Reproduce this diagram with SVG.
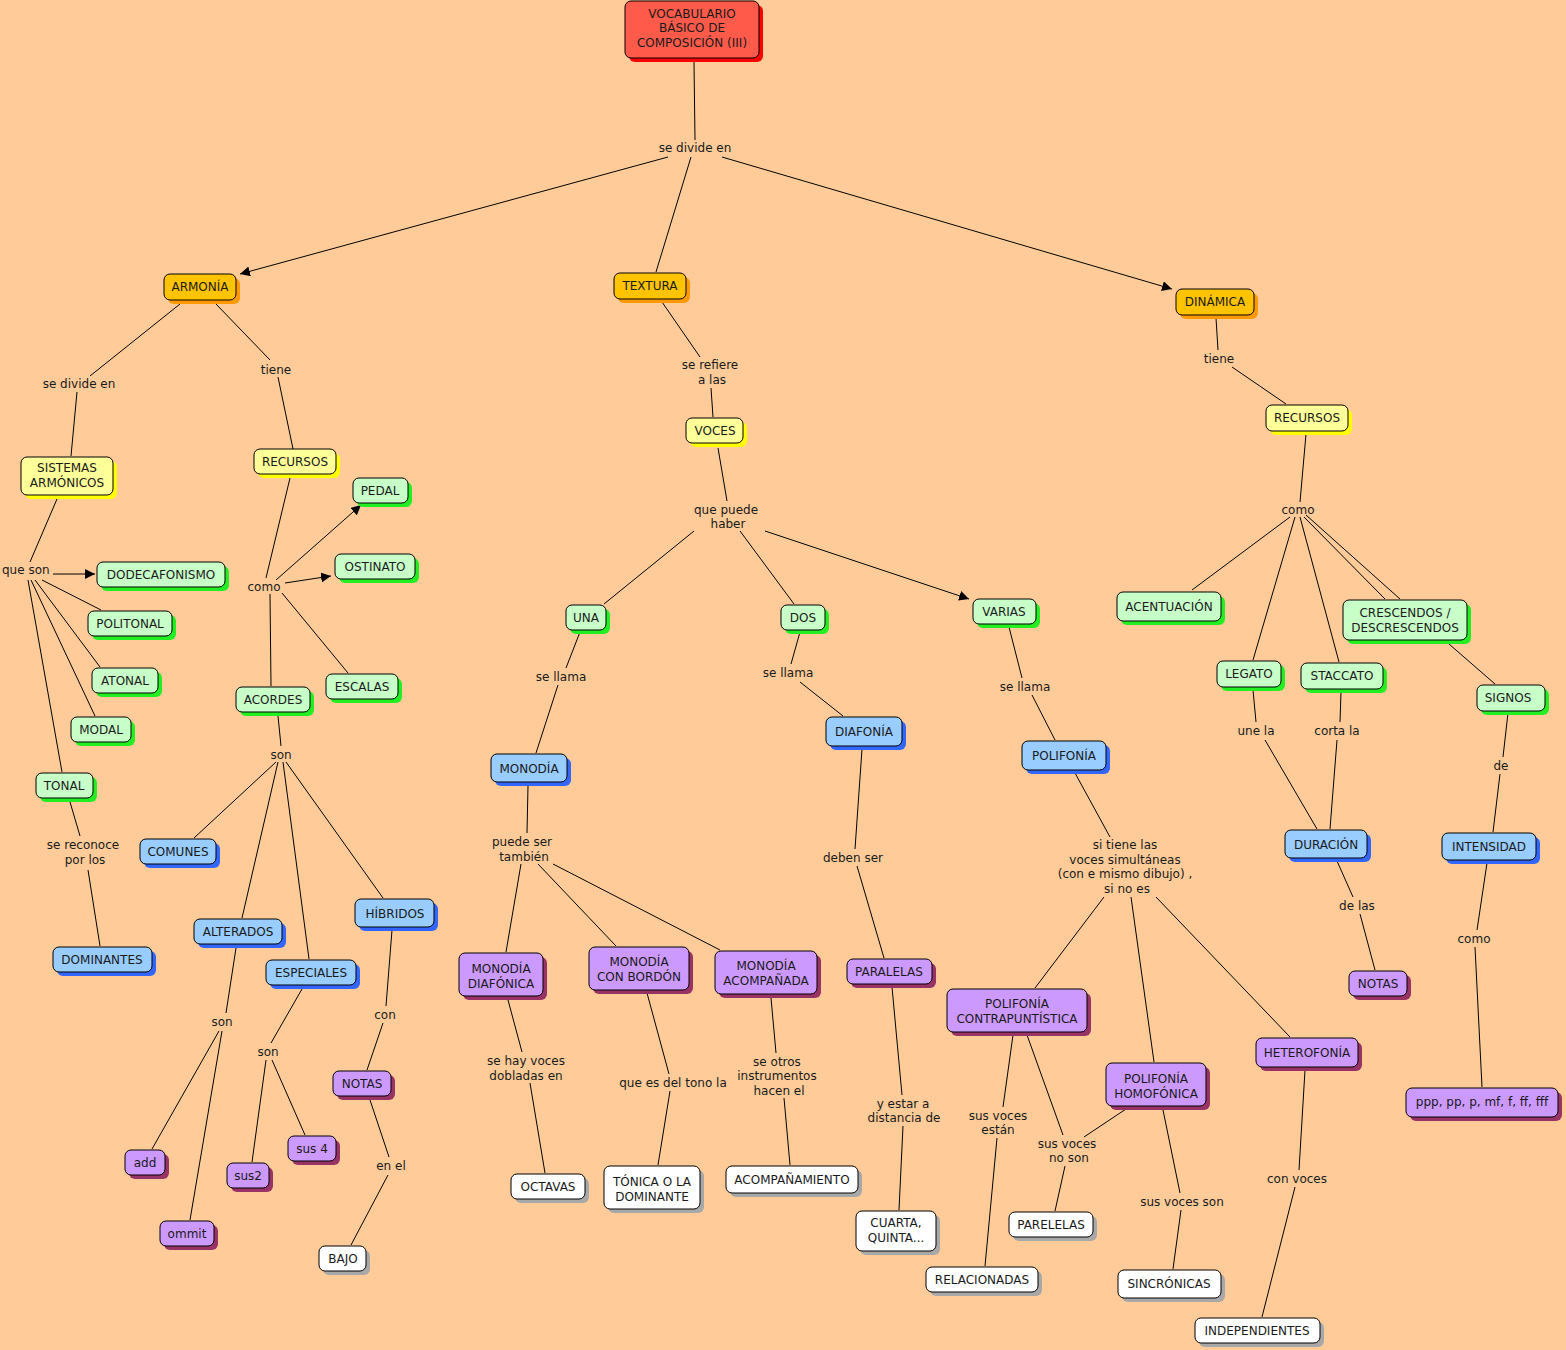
<svg xmlns="http://www.w3.org/2000/svg" width="1566" height="1350" viewBox="0 0 1566 1350">
<defs>
<marker id="ah" viewBox="0 0 10 10" refX="10" refY="5" markerWidth="10" markerHeight="10" markerUnits="userSpaceOnUse" orient="auto"><path d="M0,0 L10,5 L0,10 z" fill="#000"/></marker>
<style>
text{font-family:"DejaVu Sans","Liberation Sans",sans-serif;font-size:12px;fill:#1a1a1a;text-anchor:middle}
.cn line{stroke:#000;stroke-width:1}
.cn .ar{marker-end:url(#ah)}
.bx{stroke:#000;stroke-width:1}
.red .bx{fill:#FF5A4A}.red .sh{fill:#FF0000}
.org .bx{fill:#FFC300}.org .sh{fill:#FF9900}
.yel .bx{fill:#FFFF99}.yel .sh{fill:#FFFF00}
.grn .bx{fill:#C8FFC8}.grn .sh{fill:#22EE22}
.blu .bx{fill:#99CCFF}.blu .sh{fill:#3366FF}
.pur .bx{fill:#CC99FF}.pur .sh{fill:#993366}
.wht .bx{fill:#FFFFFF}.wht .sh{fill:#A8A8A8}
</style>
</defs>
<rect x="0" y="0" width="1566" height="1350" fill="#FFCC99"/>

<g class="cn">
<line x1="694" y1="62" x2="695" y2="140"/>
<line class="ar" x1="668" y1="157" x2="240" y2="274"/>
<line x1="691" y1="157" x2="656" y2="272"/>
<line class="ar" x1="722" y1="157" x2="1172" y2="289"/>
<line x1="180" y1="304" x2="90" y2="376"/>
<line x1="77" y1="392" x2="71" y2="456"/>
<line x1="216" y1="304" x2="270" y2="360"/>
<line x1="278" y1="377" x2="293" y2="449"/>
<line x1="57" y1="499" x2="30" y2="562"/>
<line class="ar" x1="53" y1="574" x2="95" y2="574"/>
<line x1="42" y1="580" x2="101" y2="610"/>
<line x1="35" y1="580" x2="100" y2="667"/>
<line x1="31" y1="580" x2="95" y2="716"/>
<line x1="28" y1="580" x2="62" y2="772"/>
<line x1="70" y1="802" x2="80" y2="836"/>
<line x1="88" y1="870" x2="100" y2="946"/>
<line x1="290" y1="478" x2="266" y2="578"/>
<line class="ar" x1="276" y1="580" x2="361" y2="505"/>
<line class="ar" x1="285" y1="583" x2="331" y2="576"/>
<line x1="282" y1="593" x2="348" y2="673"/>
<line x1="270" y1="594" x2="271" y2="686"/>
<line x1="278" y1="716" x2="281" y2="746"/>
<line x1="276" y1="762" x2="194" y2="838"/>
<line x1="278" y1="762" x2="242" y2="918"/>
<line x1="283" y1="762" x2="309" y2="959"/>
<line x1="286" y1="762" x2="383" y2="898"/>
<line x1="236" y1="948" x2="226" y2="1013"/>
<line x1="219" y1="1031" x2="152" y2="1149"/>
<line x1="222" y1="1031" x2="190" y2="1220"/>
<line x1="302" y1="989" x2="271" y2="1043"/>
<line x1="266" y1="1060" x2="252" y2="1162"/>
<line x1="272" y1="1060" x2="305" y2="1135"/>
<line x1="392" y1="930" x2="386" y2="1006"/>
<line x1="383" y1="1023" x2="367" y2="1070"/>
<line x1="370" y1="1100" x2="389" y2="1157"/>
<line x1="388" y1="1175" x2="351" y2="1245"/>
<line x1="662" y1="302" x2="700" y2="357"/>
<line x1="711" y1="388" x2="713" y2="417"/>
<line x1="718" y1="448" x2="727" y2="501"/>
<line x1="694" y1="531" x2="604" y2="604"/>
<line x1="740" y1="531" x2="794" y2="604"/>
<line class="ar" x1="765" y1="531" x2="969" y2="599"/>
<line x1="580" y1="632" x2="566" y2="668"/>
<line x1="558" y1="685" x2="536" y2="753"/>
<line x1="800" y1="632" x2="791" y2="664"/>
<line x1="800" y1="682" x2="843" y2="716"/>
<line x1="1009" y1="627" x2="1022" y2="678"/>
<line x1="1032" y1="695" x2="1055" y2="740"/>
<line x1="528" y1="786" x2="527" y2="833"/>
<line x1="521" y1="864" x2="506" y2="952"/>
<line x1="538" y1="864" x2="616" y2="946"/>
<line x1="553" y1="864" x2="720" y2="950"/>
<line x1="508" y1="1000" x2="522" y2="1052"/>
<line x1="530" y1="1083" x2="545" y2="1173"/>
<line x1="647" y1="993" x2="669" y2="1074"/>
<line x1="670" y1="1091" x2="658" y2="1165"/>
<line x1="771" y1="998" x2="776" y2="1053"/>
<line x1="784" y1="1098" x2="790" y2="1165"/>
<line x1="862" y1="749" x2="855" y2="849"/>
<line x1="857" y1="866" x2="884" y2="958"/>
<line x1="892" y1="987" x2="902" y2="1095"/>
<line x1="903" y1="1126" x2="899" y2="1210"/>
<line x1="1075" y1="773" x2="1110" y2="837"/>
<line x1="1104" y1="897" x2="1035" y2="988"/>
<line x1="1131" y1="897" x2="1154" y2="1062"/>
<line x1="1156" y1="897" x2="1290" y2="1037"/>
<line x1="1013" y1="1035" x2="1003" y2="1107"/>
<line x1="997" y1="1138" x2="985" y2="1266"/>
<line x1="1027" y1="1035" x2="1063" y2="1135"/>
<line x1="1065" y1="1166" x2="1055" y2="1211"/>
<line x1="1126" y1="1109" x2="1084" y2="1137"/>
<line x1="1163" y1="1110" x2="1180" y2="1193"/>
<line x1="1181" y1="1210" x2="1173" y2="1269"/>
<line x1="1305" y1="1070" x2="1299" y2="1170"/>
<line x1="1295" y1="1187" x2="1262" y2="1317"/>
<line x1="1216" y1="318" x2="1218" y2="350"/>
<line x1="1232" y1="367" x2="1286" y2="404"/>
<line x1="1306" y1="434" x2="1300" y2="502"/>
<line x1="1290" y1="517" x2="1192" y2="590"/>
<line x1="1295" y1="517" x2="1253" y2="660"/>
<line x1="1300" y1="517" x2="1339" y2="662"/>
<line x1="1304" y1="517" x2="1385" y2="599"/>
<line x1="1306" y1="515" x2="1400" y2="599"/>
<line x1="1449" y1="644" x2="1495" y2="684"/>
<line x1="1253" y1="690" x2="1256" y2="722"/>
<line x1="1265" y1="740" x2="1317" y2="829"/>
<line x1="1341" y1="692" x2="1340" y2="722"/>
<line x1="1337" y1="740" x2="1330" y2="829"/>
<line x1="1337" y1="861" x2="1353" y2="897"/>
<line x1="1360" y1="914" x2="1375" y2="970"/>
<line x1="1508" y1="713" x2="1503" y2="757"/>
<line x1="1500" y1="774" x2="1493" y2="832"/>
<line x1="1487" y1="863" x2="1477" y2="930"/>
<line x1="1475" y1="947" x2="1482" y2="1087"/>
</g>

<g id="labels">
<text x="695" y="152">se divide en</text>
<text x="79" y="388">se divide en</text>
<text x="276" y="374">tiene</text>
<text x="2" y="574" style="text-anchor:start">que son</text>
<text x="264" y="591">como</text>
<text x="281" y="759">son</text>
<text x="83" y="849">se reconoce</text>
<text x="85" y="864">por los</text>
<text x="222" y="1026">son</text>
<text x="268" y="1056">son</text>
<text x="385" y="1019">con</text>
<text x="391" y="1170">en el</text>
<text x="710" y="369">se refiere</text>
<text x="712" y="384">a las</text>
<text x="726" y="514">que puede</text>
<text x="728" y="528">haber</text>
<text x="561" y="681">se llama</text>
<text x="788" y="677">se llama</text>
<text x="1025" y="691">se llama</text>
<text x="522" y="846">puede ser</text>
<text x="524" y="861">también</text>
<text x="853" y="862">deben ser</text>
<text x="1125" y="849">si tiene las</text>
<text x="1125" y="864">voces simultáneas</text>
<text x="1125" y="878">(con e mismo dibujo) ,</text>
<text x="1127" y="893">si no es</text>
<text x="526" y="1065">se hay voces</text>
<text x="526" y="1080">dobladas en</text>
<text x="673" y="1087">que es del tono la</text>
<text x="777" y="1066">se otros</text>
<text x="777" y="1080">instrumentos</text>
<text x="779" y="1095">hacen el</text>
<text x="903" y="1108">y estar a</text>
<text x="904" y="1122">distancia de</text>
<text x="998" y="1120">sus voces</text>
<text x="998" y="1134">están</text>
<text x="1067" y="1148">sus voces</text>
<text x="1069" y="1162">no son</text>
<text x="1182" y="1206">sus voces son</text>
<text x="1297" y="1183">con voces</text>
<text x="1219" y="363">tiene</text>
<text x="1298" y="514">como</text>
<text x="1256" y="735">une la</text>
<text x="1337" y="735">corta la</text>
<text x="1501" y="770">de</text>
<text x="1357" y="910">de las</text>
<text x="1474" y="943">como</text>
</g>

<g id="n-root" class="red"><rect class="sh" x="629" y="5" width="134" height="57" rx="6"/><rect class="bx" x="625" y="1" width="134" height="57" rx="6"/><text x="692" y="18">VOCABULARIO</text><text x="692" y="32">BÁSICO DE</text><text x="692" y="47">COMPOSICIÓN (III)</text></g>

<g id="n-armonia" class="org"><rect class="sh" x="168" y="278" width="72" height="26" rx="6"/><rect class="bx" x="164" y="274" width="72" height="26" rx="6"/><text x="200" y="291">ARMONÍA</text></g>
<g id="n-textura" class="org"><rect class="sh" x="618" y="277" width="72" height="26" rx="6"/><rect class="bx" x="614" y="273" width="72" height="26" rx="6"/><text x="650" y="290">TEXTURA</text></g>
<g id="n-dinamica" class="org"><rect class="sh" x="1180" y="293" width="78" height="26" rx="6"/><rect class="bx" x="1176" y="289" width="78" height="26" rx="6"/><text x="1215" y="306">DINÁMICA</text></g>

<g id="n-sistemas" class="yel"><rect class="sh" x="25" y="461" width="92" height="38" rx="6"/><rect class="bx" x="21" y="457" width="92" height="38" rx="6"/><text x="67" y="472">SISTEMAS</text><text x="67" y="487">ARMÓNICOS</text></g>
<g id="n-recursos1" class="yel"><rect class="sh" x="258" y="453" width="82" height="25" rx="6"/><rect class="bx" x="254" y="449" width="82" height="25" rx="6"/><text x="295" y="466">RECURSOS</text></g>
<g id="n-pedal" class="grn"><rect class="sh" x="357" y="482" width="55" height="25" rx="6"/><rect class="bx" x="353" y="478" width="55" height="25" rx="6"/><text x="380" y="495">PEDAL</text></g>
<g id="n-dodeca" class="grn"><rect class="sh" x="101" y="566" width="128" height="25" rx="6"/><rect class="bx" x="97" y="562" width="128" height="25" rx="6"/><text x="161" y="579">DODECAFONISMO</text></g>
<g id="n-ostinato" class="grn"><rect class="sh" x="339" y="558" width="80" height="25" rx="6"/><rect class="bx" x="335" y="554" width="80" height="25" rx="6"/><text x="375" y="571">OSTINATO</text></g>
<g id="n-politonal" class="grn"><rect class="sh" x="92" y="615" width="84" height="25" rx="6"/><rect class="bx" x="88" y="611" width="84" height="25" rx="6"/><text x="130" y="628">POLITONAL</text></g>
<g id="n-atonal" class="grn"><rect class="sh" x="96" y="672" width="66" height="25" rx="6"/><rect class="bx" x="92" y="668" width="66" height="25" rx="6"/><text x="125" y="685">ATONAL</text></g>
<g id="n-escalas" class="grn"><rect class="sh" x="330" y="678" width="72" height="25" rx="6"/><rect class="bx" x="326" y="674" width="72" height="25" rx="6"/><text x="362" y="691">ESCALAS</text></g>
<g id="n-acordes" class="grn"><rect class="sh" x="240" y="691" width="74" height="25" rx="6"/><rect class="bx" x="236" y="687" width="74" height="25" rx="6"/><text x="273" y="704">ACORDES</text></g>
<g id="n-modal" class="grn"><rect class="sh" x="75" y="721" width="60" height="25" rx="6"/><rect class="bx" x="71" y="717" width="60" height="25" rx="6"/><text x="101" y="734">MODAL</text></g>
<g id="n-tonal" class="grn"><rect class="sh" x="40" y="777" width="57" height="25" rx="6"/><rect class="bx" x="36" y="773" width="57" height="25" rx="6"/><text x="64" y="790">TONAL</text></g>
<g id="n-comunes" class="blu"><rect class="sh" x="144" y="843" width="76" height="25" rx="6"/><rect class="bx" x="140" y="839" width="76" height="25" rx="6"/><text x="178" y="856">COMUNES</text></g>
<g id="n-dominantes" class="blu"><rect class="sh" x="57" y="951" width="99" height="25" rx="6"/><rect class="bx" x="53" y="947" width="99" height="25" rx="6"/><text x="102" y="964">DOMINANTES</text></g>
<g id="n-alterados" class="blu"><rect class="sh" x="198" y="923" width="88" height="25" rx="6"/><rect class="bx" x="194" y="919" width="88" height="25" rx="6"/><text x="238" y="936">ALTERADOS</text></g>
<g id="n-hibridos" class="blu"><rect class="sh" x="359" y="903" width="79" height="28" rx="6"/><rect class="bx" x="355" y="899" width="79" height="28" rx="6"/><text x="395" y="918">HÍBRIDOS</text></g>
<g id="n-especiales" class="blu"><rect class="sh" x="270" y="964" width="90" height="25" rx="6"/><rect class="bx" x="266" y="960" width="90" height="25" rx="6"/><text x="311" y="977">ESPECIALES</text></g>
<g id="n-notas1" class="pur"><rect class="sh" x="337" y="1075" width="58" height="25" rx="6"/><rect class="bx" x="333" y="1071" width="58" height="25" rx="6"/><text x="362" y="1088">NOTAS</text></g>
<g id="n-add" class="pur"><rect class="sh" x="129" y="1154" width="40" height="25" rx="6"/><rect class="bx" x="125" y="1150" width="40" height="25" rx="6"/><text x="145" y="1167">add</text></g>
<g id="n-sus4" class="pur"><rect class="sh" x="292" y="1140" width="48" height="25" rx="6"/><rect class="bx" x="288" y="1136" width="48" height="25" rx="6"/><text x="312" y="1153">sus 4</text></g>
<g id="n-sus2" class="pur"><rect class="sh" x="231" y="1167" width="42" height="25" rx="6"/><rect class="bx" x="227" y="1163" width="42" height="25" rx="6"/><text x="248" y="1180">sus2</text></g>
<g id="n-ommit" class="pur"><rect class="sh" x="164" y="1225" width="54" height="25" rx="6"/><rect class="bx" x="160" y="1221" width="54" height="25" rx="6"/><text x="187" y="1238">ommit</text></g>
<g id="n-bajo" class="wht"><rect class="sh" x="323" y="1250" width="47" height="25" rx="6"/><rect class="bx" x="319" y="1246" width="47" height="25" rx="6"/><text x="343" y="1263">BAJO</text></g>

<g id="n-voces" class="yel"><rect class="sh" x="690" y="422" width="57" height="25" rx="6"/><rect class="bx" x="686" y="418" width="57" height="25" rx="6"/><text x="715" y="435">VOCES</text></g>
<g id="n-una" class="grn"><rect class="sh" x="570" y="609" width="40" height="25" rx="6"/><rect class="bx" x="566" y="605" width="40" height="25" rx="6"/><text x="586" y="622">UNA</text></g>
<g id="n-dos" class="grn"><rect class="sh" x="785" y="609" width="44" height="25" rx="6"/><rect class="bx" x="781" y="605" width="44" height="25" rx="6"/><text x="803" y="622">DOS</text></g>
<g id="n-varias" class="grn"><rect class="sh" x="977" y="603" width="63" height="25" rx="6"/><rect class="bx" x="973" y="599" width="63" height="25" rx="6"/><text x="1004" y="616">VARIAS</text></g>
<g id="n-monodia" class="blu"><rect class="sh" x="495" y="758" width="76" height="28" rx="6"/><rect class="bx" x="491" y="754" width="76" height="28" rx="6"/><text x="529" y="773">MONODÍA</text></g>
<g id="n-diafonia" class="blu"><rect class="sh" x="830" y="721" width="76" height="29" rx="6"/><rect class="bx" x="826" y="717" width="76" height="29" rx="6"/><text x="864" y="736">DIAFONÍA</text></g>
<g id="n-polifonia" class="blu"><rect class="sh" x="1026" y="745" width="84" height="29" rx="6"/><rect class="bx" x="1022" y="741" width="84" height="29" rx="6"/><text x="1064" y="760">POLIFONÍA</text></g>
<g id="n-mono-diaf" class="pur"><rect class="sh" x="463" y="957" width="84" height="43" rx="6"/><rect class="bx" x="459" y="953" width="84" height="43" rx="6"/><text x="501" y="973">MONODÍA</text><text x="501" y="988">DIAFÓNICA</text></g>
<g id="n-mono-bordon" class="pur"><rect class="sh" x="593" y="951" width="100" height="43" rx="6"/><rect class="bx" x="589" y="947" width="100" height="43" rx="6"/><text x="639" y="966">MONODÍA</text><text x="639" y="981">CON BORDÓN</text></g>
<g id="n-mono-acomp" class="pur"><rect class="sh" x="719" y="955" width="102" height="43" rx="6"/><rect class="bx" x="715" y="951" width="102" height="43" rx="6"/><text x="766" y="970">MONODÍA</text><text x="766" y="985">ACOMPAÑADA</text></g>
<g id="n-paralelas" class="pur"><rect class="sh" x="851" y="963" width="85" height="25" rx="6"/><rect class="bx" x="847" y="959" width="85" height="25" rx="6"/><text x="889" y="976">PARALELAS</text></g>
<g id="n-contrap" class="pur"><rect class="sh" x="951" y="993" width="140" height="43" rx="6"/><rect class="bx" x="947" y="989" width="140" height="43" rx="6"/><text x="1017" y="1008">POLIFONÍA</text><text x="1017" y="1023">CONTRAPUNTÍSTICA</text></g>
<g id="n-homof" class="pur"><rect class="sh" x="1110" y="1067" width="100" height="43" rx="6"/><rect class="bx" x="1106" y="1063" width="100" height="43" rx="6"/><text x="1156" y="1083">POLIFONÍA</text><text x="1156" y="1098">HOMOFÓNICA</text></g>
<g id="n-heterof" class="pur"><rect class="sh" x="1260" y="1042" width="102" height="29" rx="6"/><rect class="bx" x="1256" y="1038" width="102" height="29" rx="6"/><text x="1307" y="1057">HETEROFONÍA</text></g>
<g id="n-octavas" class="wht"><rect class="sh" x="515" y="1178" width="74" height="25" rx="6"/><rect class="bx" x="511" y="1174" width="74" height="25" rx="6"/><text x="548" y="1191">OCTAVAS</text></g>
<g id="n-tonica" class="wht"><rect class="sh" x="608" y="1170" width="96" height="43" rx="6"/><rect class="bx" x="604" y="1166" width="96" height="43" rx="6"/><text x="652" y="1186">TÓNICA O LA</text><text x="652" y="1201">DOMINANTE</text></g>
<g id="n-acompan" class="wht"><rect class="sh" x="730" y="1170" width="132" height="27" rx="6"/><rect class="bx" x="726" y="1166" width="132" height="27" rx="6"/><text x="792" y="1184">ACOMPAÑAMIENTO</text></g>
<g id="n-cuarta" class="wht"><rect class="sh" x="860" y="1215" width="80" height="40" rx="6"/><rect class="bx" x="856" y="1211" width="80" height="40" rx="6"/><text x="896" y="1227">CUARTA,</text><text x="896" y="1242">QUINTA...</text></g>
<g id="n-relacion" class="wht"><rect class="sh" x="930" y="1271" width="112" height="25" rx="6"/><rect class="bx" x="926" y="1267" width="112" height="25" rx="6"/><text x="982" y="1284">RELACIONADAS</text></g>
<g id="n-parelelas" class="wht"><rect class="sh" x="1013" y="1216" width="84" height="25" rx="6"/><rect class="bx" x="1009" y="1212" width="84" height="25" rx="6"/><text x="1051" y="1229">PARELELAS</text></g>
<g id="n-sincron" class="wht"><rect class="sh" x="1122" y="1274" width="103" height="28" rx="6"/><rect class="bx" x="1118" y="1270" width="103" height="28" rx="6"/><text x="1169" y="1288">SINCRÓNICAS</text></g>
<g id="n-independ" class="wht"><rect class="sh" x="1199" y="1322" width="125" height="25" rx="6"/><rect class="bx" x="1195" y="1318" width="125" height="25" rx="6"/><text x="1257" y="1335">INDEPENDIENTES</text></g>

<g id="n-recursos2" class="yel"><rect class="sh" x="1270" y="409" width="82" height="26" rx="6"/><rect class="bx" x="1266" y="405" width="82" height="26" rx="6"/><text x="1307" y="422">RECURSOS</text></g>
<g id="n-acentu" class="grn"><rect class="sh" x="1121" y="596" width="104" height="29" rx="6"/><rect class="bx" x="1117" y="592" width="104" height="29" rx="6"/><text x="1169" y="611">ACENTUACIÓN</text></g>
<g id="n-cresc" class="grn"><rect class="sh" x="1347" y="604" width="124" height="40" rx="6"/><rect class="bx" x="1343" y="600" width="124" height="40" rx="6"/><text x="1405" y="617">CRESCENDOS /</text><text x="1405" y="632">DESCRESCENDOS</text></g>
<g id="n-legato" class="grn"><rect class="sh" x="1221" y="665" width="64" height="26" rx="6"/><rect class="bx" x="1217" y="661" width="64" height="26" rx="6"/><text x="1249" y="678">LEGATO</text></g>
<g id="n-staccato" class="grn"><rect class="sh" x="1305" y="667" width="82" height="26" rx="6"/><rect class="bx" x="1301" y="663" width="82" height="26" rx="6"/><text x="1342" y="680">STACCATO</text></g>
<g id="n-signos" class="grn"><rect class="sh" x="1481" y="689" width="68" height="26" rx="6"/><rect class="bx" x="1477" y="685" width="68" height="26" rx="6"/><text x="1508" y="702">SIGNOS</text></g>
<g id="n-duracion" class="blu"><rect class="sh" x="1289" y="834" width="82" height="28" rx="6"/><rect class="bx" x="1285" y="830" width="82" height="28" rx="6"/><text x="1326" y="849">DURACIÓN</text></g>
<g id="n-intens" class="blu"><rect class="sh" x="1446" y="837" width="94" height="27" rx="6"/><rect class="bx" x="1442" y="833" width="94" height="27" rx="6"/><text x="1489" y="851">INTENSIDAD</text></g>
<g id="n-notas2" class="pur"><rect class="sh" x="1353" y="975" width="58" height="25" rx="6"/><rect class="bx" x="1349" y="971" width="58" height="25" rx="6"/><text x="1378" y="988">NOTAS</text></g>
<g id="n-ppp" class="pur"><rect class="sh" x="1410" y="1092" width="152" height="29" rx="6"/><rect class="bx" x="1406" y="1088" width="152" height="29" rx="6"/><text x="1482" y="1106">ppp, pp, p, mf, f, ff, fff</text></g>
</svg>
